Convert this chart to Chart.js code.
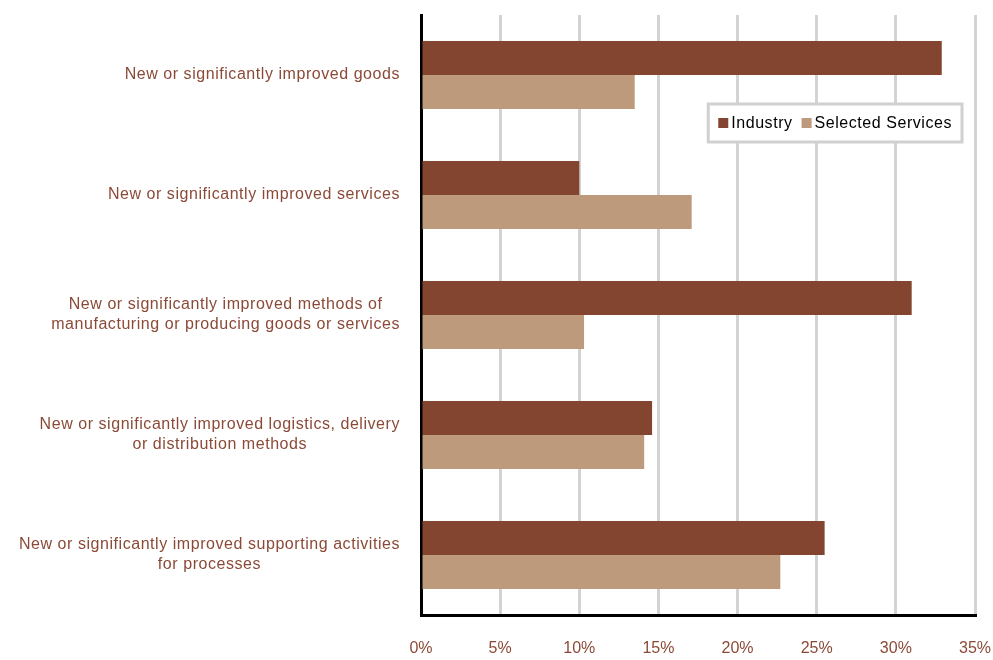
<!DOCTYPE html>
<html>
<head>
<meta charset="utf-8">
<script src="https://cdn.jsdelivr.net/npm/chart.js@4.4.1/dist/chart.umd.min.js"></script>
<style>
  html, body { margin: 0; padding: 0; background: #ffffff; }
  canvas { display: block; }
</style>
</head>
<body>
<canvas id="chart" width="993" height="660"></canvas>
<script>
// Innovation types (each entry holds the lines of its label)
const categories = [
  ["New or significantly improved goods"],
  ["New or significantly improved services"],
  ["New or significantly improved methods of", "manufacturing or producing goods or services"],
  ["New or significantly improved logistics, delivery", "or distribution methods"],
  ["New or significantly improved supporting activities", "for processes"]
];
const seriesNames = ["Industry", "Selected Services"];
const industry = [32.9, 10.0, 31.0, 14.6, 25.5];
const selectedServices = [13.5, 17.1, 10.3, 14.1, 22.7];
const xTicks = [0, 5, 10, 15, 20, 25, 30, 35];

const TEXT_BROWN = "#8b4a37";
const FONT = "Liberation Sans, Arial, sans-serif";
const SPACING = "0.55px";

// Category labels: the block is right-aligned against the axis, its lines centred within it
const categoryLabels = {
  id: "categoryLabels",
  afterDraw(chart) {
    const ctx = chart.ctx;
    const y = chart.scales.y;
    const rightEdge = chart.chartArea.left - 21;
    const lineH = 20;
    ctx.save();
    ctx.font = "16px " + FONT;
    if ("letterSpacing" in ctx) ctx.letterSpacing = SPACING;
    ctx.fillStyle = TEXT_BROWN;
    ctx.textAlign = "center";
    ctx.textBaseline = "middle";
    chart.data.labels.forEach((lines, i) => {
      const cy = y.getPixelForValue(i);
      const w = Math.max(...lines.map(l => ctx.measureText(l).width));
      const cx = rightEdge - w / 2;
      const startY = cy - (lines.length - 1) * lineH / 2;
      lines.forEach((l, k) => ctx.fillText(l, cx, startY + k * lineH));
    });
    ctx.restore();
  }
};

// Boxed legend placed inside the plot area, upper right
const boxedLegend = {
  id: "boxedLegend",
  afterDraw(chart) {
    const ctx = chart.ctx;
    const area = chart.chartArea;
    ctx.save();
    ctx.font = "16px " + FONT;
    if ("letterSpacing" in ctx) ctx.letterSpacing = SPACING;
    const sw = 10, gapSwatch = 3, gapItem = 9, padX = 10;
    const items = chart.data.datasets.map(d => ({
      text: d.label, color: d.backgroundColor, w: ctx.measureText(d.label).width
    }));
    let total = padX * 2;
    items.forEach((it, i) => { total += sw + gapSwatch + it.w + (i ? gapItem : 0); });
    const boxR = area.right - 13;
    const boxL = boxR - total;
    const boxT = area.top + 89, boxH = 38;
    ctx.fillStyle = "#ffffff";
    ctx.fillRect(boxL, boxT, total, boxH);
    ctx.strokeStyle = "#d0d0d0";
    ctx.lineWidth = 3;
    ctx.strokeRect(boxL, boxT, total, boxH);
    let x = boxL + padX;
    const cy = boxT + boxH / 2;
    items.forEach((it, i) => {
      if (i) x += gapItem;
      ctx.fillStyle = it.color;
      ctx.fillRect(x, cy - sw / 2, sw, sw);
      x += sw + gapSwatch;
      ctx.fillStyle = "#000000";
      ctx.textAlign = "left";
      ctx.textBaseline = "middle";
      ctx.fillText(it.text, x, cy + 1);
      x += it.w;
    });
    ctx.restore();
  }
};

new Chart(document.getElementById("chart"), {
  type: "bar",
  data: {
    labels: categories,
    datasets: [
      { label: seriesNames[0], data: industry, backgroundColor: "#83452f" },
      { label: seriesNames[1], data: selectedServices, backgroundColor: "#bc9a7b" }
    ]
  },
  options: {
    indexAxis: "y",
    responsive: false,
    animation: false,
    layout: { padding: { top: 15, right: 18, bottom: 0, left: 0 } },
    datasets: { bar: { categoryPercentage: 0.567, barPercentage: 1.0 } },
    plugins: {
      legend: { display: false },
      tooltip: { enabled: false }
    },
    scales: {
      x: {
        min: 0, max: 35,
        afterBuildTicks(scale) { scale.ticks = xTicks.map(v => ({ value: v })); },
        afterFit(scale) { scale.paddingLeft = 0; scale.paddingRight = 0; scale.height = 45; },
        ticks: {
          callback: v => v + "%",
          color: TEXT_BROWN,
          font: { family: FONT, size: 16 },
          padding: 24,
          maxRotation: 0
        },
        grid: { color: "#d3d3d3", lineWidth: 3, drawTicks: false },
        border: { color: "#000000", width: 3 }
      },
      y: {
        ticks: { display: false },
        afterFit(scale) { scale.width = 421; },
        grid: { display: false, drawTicks: false },
        border: { color: "#000000", width: 3 }
      }
    }
  },
  plugins: [categoryLabels, boxedLegend]
});
</script>
</body>
</html>
